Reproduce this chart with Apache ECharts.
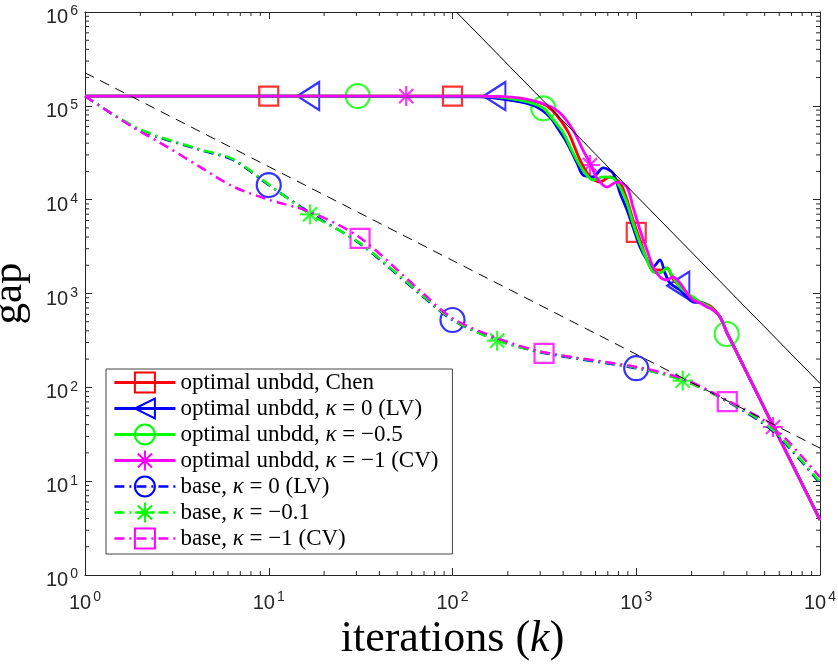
<!DOCTYPE html>
<html>
<head>
<meta charset="utf-8">
<script src="https://cdn.jsdelivr.net/npm/echarts@6/dist/echarts.min.js"></script>
<style>
    html, body { margin: 0; padding: 0; background: #fff; }
    #chart { width: 838px; height: 665px; }
</style>
</head>
<body>
<div id="chart"></div>
<script>
// tick positions (decades)
var xTicks = [1, 10, 100, 1000, 10000];
var yTicks = [1, 10, 100, 1000, 10000, 100000, 1000000];

// legend names
var names = [
    'optimal unbdd, Chen',
    'optimal unbdd, κ = 0 (LV)',
    'optimal unbdd, κ = −0.5',
    'optimal unbdd, κ = −1 (CV)',
    'base, κ = 0 (LV)',
    'base, κ = −0.1',
    'base, κ = −1 (CV)'
];

// [iteration, gap]
var optChen = [[1, 1.27e5], [141, 1.27e5], [233, 1.18e5], [327, 9.96e4], [420, 5.53e4], [494, 2.65e4], [560, 1.75e4], [635, 1.54e4], [720, 1.75e4], [816, 1.51e4], [891, 9.93e3], [960, 6.07e3], [1048, 3.72e3], [1144, 2.28e3], [1234, 1.78e3], [1380, 1.78e3], [1470, 1.87e3], [1585, 1.43e3], [1730, 1.17e3], [1888, 965], [2142, 832], [2518, 736], [2858, 562], [3120, 380], [10000, 3.86]];
var optLV = [[1, 1.27e5], [141, 1.25e5], [233, 1.10e5], [288, 9.7e4], [339, 7.6e4], [370, 5.95e4], [420, 4.02e4], [476, 2.46e4], [513, 1.83e4], [582, 1.75e4], [660, 2.18e4], [747, 1.92e4], [816, 1.18e4], [891, 7.76e3], [960, 5.11e3], [1048, 3.13e3], [1144, 2.28e3], [1234, 1.92e3], [1347, 2.28e3], [1433, 1.66e3], [1527, 1.29e3], [1730, 1.09e3], [1888, 918], [2035, 812], [2307, 793], [2618, 667], [2858, 562], [3120, 380], [10000, 3.86]];
var optK05 = [[1, 1.27e5], [141, 1.27e5], [233, 1.15e5], [311, 9.5e4], [352, 7.2e4], [401, 5.14e4], [453, 3.15e4], [513, 2.07e4], [582, 1.62e4], [660, 1.75e4], [747, 1.70e4], [816, 1.36e4], [891, 9.2e3], [960, 5.64e3], [1048, 3.45e3], [1144, 2.28e3], [1234, 1.70e3], [1347, 1.66e3], [1470, 1.87e3], [1585, 1.50e3], [1730, 1.17e3], [1888, 1.01e3], [2035, 918], [2223, 812], [2518, 718], [2858, 562], [3120, 380], [10000, 3.86]];
var optCV = [[1, 1.27e5], [141, 1.27e5], [233, 1.21e5], [327, 1.02e5], [385, 8.4e4], [453, 5.53e4], [513, 3.38e4], [560, 2.46e4], [611, 1.70e4], [693, 1.36e4], [785, 1.54e4], [891, 1.36e4], [960, 8.36e3], [1048, 4.75e3], [1144, 2.91e3], [1234, 1.92e3], [1347, 1.50e3], [1470, 1.39e3], [1585, 1.50e3], [1730, 1.29e3], [1888, 1.01e3], [2035, 853], [2223, 793], [2427, 718], [2618, 667], [2858, 562], [3120, 380], [10000, 3.86]];

var baseLV = [[1, 1.27e5], [2, 5.5e4], [4.2, 3.4e4], [6.4, 2.65e4], [10, 1.43e4], [16.8, 7.2e3], [31, 3.45e3], [66, 1.0e3], [100, 522], [175, 320], [315, 232], [1000, 160], [1800, 120], [3160, 70], [5550, 34], [10000, 9.5]];
var baseK01 = [[1, 1.27e5], [2, 5.6e4], [4.2, 3.45e4], [6.4, 2.7e4], [10, 1.45e4], [16.8, 7.0e3], [31, 3.5e3], [66, 1.02e3], [100, 530], [175, 316], [315, 235], [1000, 162], [1790, 118], [3160, 71], [5550, 35], [10000, 9.8]];
var baseCV = [[1, 1.27e5], [1.8, 6.0e4], [2.8, 3.65e4], [4.2, 2.25e4], [6.4, 1.38e4], [10, 1.0e4], [16.8, 7.4e3], [31, 4.0e3], [66, 1.09e3], [100, 545], [178, 330], [316, 236], [1000, 165], [1800, 123], [3160, 72], [5550, 38], [10000, 11]];

// marker positions
var mkChen = [[10, 1.27e5], [100, 1.27e5], [1000, 4.49e3]];
var mkLV = [[16.4, 1.27e5], [169, 1.27e5], [1694, 1.21e3]];
var mkK05 = [[30.5, 1.27e5], [312, 9.4e4], [3105, 370]];
var mkCV = [[56, 1.27e5], [560, 2.34e4], [5550, 37.8]];
var mkBaseLV = [[10, 1.43e4], [100, 522], [1000, 160]];
var mkBaseK01 = [[16.8, 6.98e3], [175, 314], [1790, 118]];
var mkBaseCV = [[31.4, 3.87e3], [315, 230], [3130, 70.3]];

// reference slopes
var refK1 = [[1, 2.25e5], [10000, 22.5]];
var refK2 = [[105, 1e6], [10000, 110]];

(function () {
    var axisColor = '#262626';
    var serif = 'Liberation Serif';
    var sans = 'Liberation Sans';
    var dashDot = [10, 5, 2, 5];
    var triangle = 'path://M0,12L20,0L20,24Z';
    var asterisk = 'path://M10,0L10,20M0,10L20,10M2.93,2.93L17.07,17.07M2.93,17.07L17.07,2.93';

    function tickLabel(v) {
        return '{b|10}{s|' + Math.round(Math.log10(v)) + '}';
    }
    var labelRich = {
        b: { fontFamily: sans, fontSize: 20, color: axisColor, lineHeight: 26 },
        s: { fontFamily: sans, fontSize: 14, color: axisColor, lineHeight: 12, padding: [0, 0, 0, 2], verticalAlign: 'top' }
    };

    function logAxis(pos, ticks, withLabels, margin) {
        return {
            type: 'log',
            logBase: 10,
            position: pos,
            min: ticks[0],
            max: ticks[ticks.length - 1],
            interval: 1,
            splitNumber: ticks.length - 1,
            axisLine: { show: true, onZero: false, lineStyle: { color: axisColor, width: 1 } },
            axisTick: { show: true, inside: true, length: 7, lineStyle: { color: axisColor, width: 1 } },
            splitLine: { show: false },
            axisLabel: {
                show: withLabels,
                margin: margin,
                padding: [11, 0, 0, 0],
                fontFamily: sans,
                fontSize: 20,
                color: axisColor,
                formatter: tickLabel,
                rich: labelRich
            }
        };
    }

    var xAxisMain = logAxis('bottom', xTicks, true, 4);
    xAxisMain.name = 'iterations ({i|k})';
    xAxisMain.nameLocation = 'middle';
    xAxisMain.nameGap = 42;
    xAxisMain.nameTextStyle = {
        fontFamily: serif, fontSize: 44, color: '#000',
        rich: { i: { fontFamily: serif, fontSize: 44, fontStyle: 'italic', color: '#000' } }
    };
    var yAxisMain = logAxis('left', yTicks, true, 7);
    yAxisMain.name = 'gap';
    yAxisMain.nameLocation = 'middle';
    yAxisMain.nameGap = 54;
    yAxisMain.nameTextStyle = { fontFamily: serif, fontSize: 43, color: '#000' };

    // minor ticks at 2..9 of every decade
    function minors(ticks) {
        var out = [];
        for (var i = 0; i < ticks.length - 1; i++) {
            for (var m = 2; m <= 9; m++) out.push(m * ticks[i]);
        }
        return out;
    }
    var xMin = xTicks[0], xMax = xTicks[xTicks.length - 1];
    var yMin = yTicks[0], yMax = yTicks[yTicks.length - 1];

    function tickLine(x1, y1, x2, y2) {
        return { type: 'line', shape: { x1: x1, y1: y1, x2: x2, y2: y2 }, style: { stroke: axisColor, lineWidth: 1 } };
    }

    var minorX = {
        type: 'custom', silent: true,
        data: minors(xTicks).map(function (v) { return [v, yMin]; }),
        renderItem: function (params, api) {
            var v = api.value(0);
            var b = api.coord([v, yMin]), t = api.coord([v, yMax]);
            return { type: 'group', children: [tickLine(b[0], b[1], b[0], b[1] - 4), tickLine(t[0], t[1], t[0], t[1] + 4)] };
        }
    };
    var minorY = {
        type: 'custom', silent: true,
        data: minors(yTicks).map(function (v) { return [xMin, v]; }),
        renderItem: function (params, api) {
            var v = api.value(1);
            var l = api.coord([xMin, v]), r = api.coord([xMax, v]);
            return { type: 'group', children: [tickLine(l[0], l[1], l[0] + 4, l[1]), tickLine(r[0], r[1], r[0] - 4, r[1])] };
        }
    };

    function curve(name, data, color, width, dash, sym) {
        return {
            name: name, type: 'line', data: data, smooth: 0.3, showSymbol: false, symbol: sym, silent: true,
            lineStyle: { color: color, width: width, type: dash },
            itemStyle: { color: color }
        };
    }
    function marks(name, data, color, sym, size) {
        return {
            name: name + ' marks', type: 'scatter', data: data, symbol: sym, symbolSize: size, silent: true,
            itemStyle: { color: 'rgba(0,0,0,0)', borderColor: color, borderWidth: 2.2 }
        };
    }

    var defs = [
        { d: optChen, m: mkChen, c: '#ff0000', w: 2.8, t: 'solid', s: 'rect', z: 19 },
        { d: optLV, m: mkLV, c: '#0000ff', w: 2.8, t: 'solid', s: triangle, z: [22, 28] },
        { d: optK05, m: mkK05, c: '#00ff00', w: 2.8, t: 'solid', s: 'circle', z: 24 },
        { d: optCV, m: mkCV, c: '#ff00ff', w: 2.8, t: 'solid', s: asterisk, z: 20 },
        { d: baseLV, m: mkBaseLV, c: '#0000ff', w: 2.5, t: dashDot, s: 'circle', z: 24 },
        { d: baseK01, m: mkBaseK01, c: '#00ff00', w: 2.5, t: dashDot, s: asterisk, z: 20 },
        { d: baseCV, m: mkBaseCV, c: '#ff00ff', w: 2.5, t: dashDot, s: 'rect', z: 19 }
    ];

    var series = [minorX, minorY];
    var legendData = [];
    defs.forEach(function (o, i) {
        series.push(curve(names[i], o.d, o.c, o.w, o.t, o.s));
        series.push(marks(names[i], o.m, o.c, o.s, o.z));
        legendData.push({
            name: names[i],
            itemStyle: { color: 'rgba(0,0,0,0)', borderColor: o.c, borderWidth: 2 },
            lineStyle: { width: o.w }
        });
    });
    series.push({
        name: 'ref1', type: 'line', data: refK1, showSymbol: false, silent: true,
        lineStyle: { color: '#000', width: 1, type: [10, 7] }
    });
    series.push({
        name: 'ref2', type: 'line', data: refK2, showSymbol: false, silent: true,
        lineStyle: { color: '#000', width: 1, type: 'solid' }
    });

    var option = {
        animation: false,
        backgroundColor: '#fff',
        grid: { left: 85, right: 18, top: 12, bottom: 90, containLabel: false, outerBoundsMode: 'none' },
        xAxis: [xAxisMain, logAxis('top', xTicks, false, 0)],
        yAxis: [yAxisMain, logAxis('right', yTicks, false, 0)],
        legend: {
            orient: 'vertical',
            left: 106,
            top: 369,
            padding: [1, 14, 3, 7],
            itemGap: 1,
            itemWidth: 61,
            itemHeight: 25,
            backgroundColor: '#fff',
            borderColor: '#444',
            borderWidth: 1,
            selectedMode: false,
            textStyle: {
                fontFamily: serif, fontSize: 23, lineHeight: 25, color: '#000',
                rich: { i: { fontFamily: serif, fontSize: 23, lineHeight: 25, fontStyle: 'italic', color: '#000' } }
            },
            formatter: function (n) { return n.replace('κ', '{i|κ}'); },
            data: legendData
        },
        series: series
    };

    var myChart = echarts.init(document.getElementById('chart'));
    myChart.setOption(option);
})();
</script>
</body>
</html>
